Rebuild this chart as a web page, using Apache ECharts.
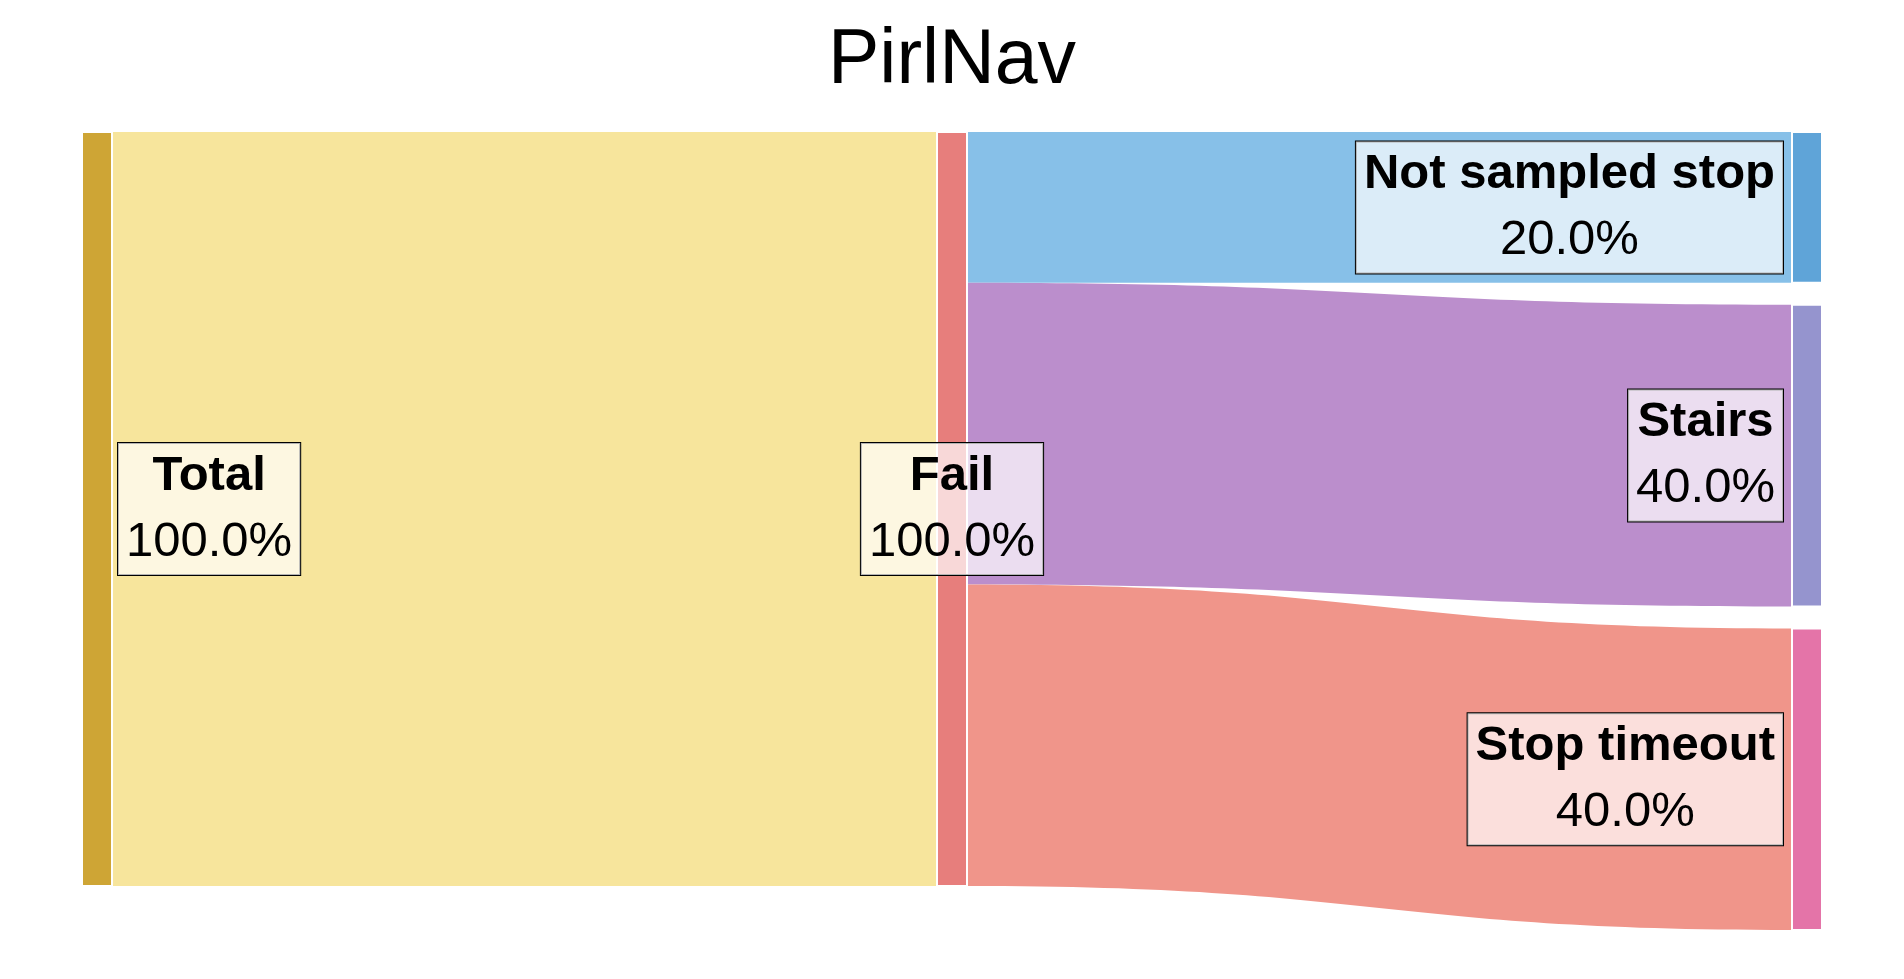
<!DOCTYPE html>
<html>
<head>
<meta charset="utf-8">
<title>PirlNav</title>
<script src="https://cdn.jsdelivr.net/npm/echarts@6/dist/echarts.min.js"></script>
<style>
  html, body { margin: 0; padding: 0; background: #fff; }
  #chart { width: 1904px; height: 979px; }
</style>
</head>
<body>
<div id="chart"></div>
<script>
// nodes and flows (values in %)
const nodeNames = ['Total', 'Fail', 'Not sampled stop', 'Stairs', 'Stop timeout'];
const linkSources = ['Total', 'Fail', 'Fail', 'Fail'];
const linkTargets = ['Fail', 'Not sampled stop', 'Stairs', 'Stop timeout'];
const linkValues = [100, 20, 40, 40];

const nodeColors = ['#cea535', '#e77e7c', '#5fa4d8', '#9594ce', '#e474a8'];
const linkColors = ['#f7e59c', '#87c0e8', '#bb8ecc', '#f0958a'];
const labelPos = ['right', 'inside', 'left', 'left', 'left'];

const FONT = '"Liberation Sans", Arial, sans-serif';

var total = 0;
linkSources.forEach(function (s, i) {
    if (s === nodeNames[0]) total += linkValues[i];
});

var nodes = nodeNames.map(function (name, i) {
    return {
        name: name,
        itemStyle: { color: nodeColors[i] },
        label: {
            position: labelPos[i],
            distance: labelPos[i] === 'left' ? 8 : 5
        }
    };
});

var links = linkValues.map(function (v, i) {
    return {
        source: linkSources[i],
        target: linkTargets[i],
        value: v,
        lineStyle: { color: linkColors[i], opacity: 1 }
    };
});

var myChart = echarts.init(document.getElementById('chart'));
var option = {
    backgroundColor: '#fff',
    animation: false,
    title: {
        text: 'PirlNav',
        left: 'center',
        top: 18,
        textStyle: {
            fontFamily: FONT,
            fontSize: 77,
            fontWeight: 'normal',
            color: '#000'
        }
    },
    series: [{
        type: 'sankey',
        left: 82,
        right: 82,
        top: 132,
        bottom: 49,
        nodeWidth: 30,
        nodeGap: 22,
        layoutIterations: 0,
        draggable: false,
        emphasis: { disabled: true },
        itemStyle: {
            borderColor: '#fff',
            borderWidth: 2
        },
        lineStyle: {
            curveness: 0.5,
            opacity: 1
        },
        label: {
            show: true,
            backgroundColor: 'rgba(255,255,255,0.7)',
            borderColor: '#000',
            borderWidth: 1,
            padding: [0, 8],
            formatter: function (p) {
                var pct = (p.value / total * 100).toFixed(1) + '%';
                return '{n|' + p.name + '}\n{p|' + pct + '}';
            },
            rich: {
                n: {
                    fontFamily: FONT,
                    fontSize: 49,
                    fontWeight: 'bold',
                    lineHeight: 66,
                    color: '#000',
                    align: 'center'
                },
                p: {
                    fontFamily: FONT,
                    fontSize: 49,
                    lineHeight: 66,
                    color: '#000',
                    align: 'center'
                }
            }
        },
        data: nodes,
        links: links
    }]
};
myChart.clear();
myChart.setOption(option, true);
</script>
</body>
</html>
